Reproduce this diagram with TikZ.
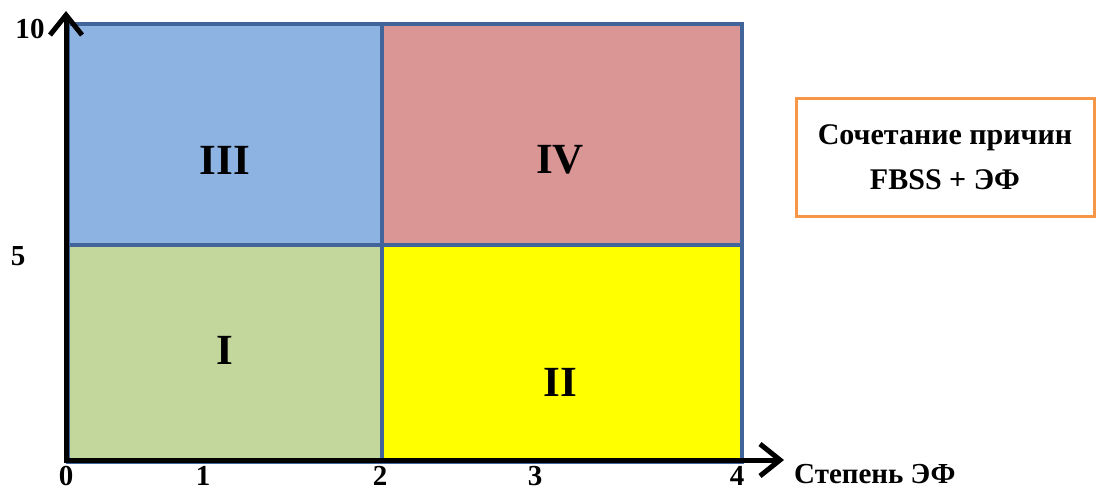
\documentclass[tikz,border=0pt]{standalone}
\usepackage{fontspec}
\setmainfont{Liberation Serif}
\usetikzlibrary{arrows.meta}

\definecolor{quadAzul}{HTML}{8DB3E2}
\definecolor{quadRosa}{HTML}{D99694}
\definecolor{quadVerde}{HTML}{C3D69B}
\definecolor{quadAmarelo}{HTML}{FFFF00}
\definecolor{bordaQuad}{HTML}{41659A}
\definecolor{bordaLeg}{HTML}{F79646}

\begin{document}
\begin{tikzpicture}[
    x=1pt, y=-1pt,
    font=\bfseries,
    % eixos pretos grossos com ponta aberta
    eixo/.style={line width=5pt, -{Straight Barb[length=20pt,width=32pt]}},
    quad/.style={draw=bordaQuad, line width=3.5pt, inner sep=0pt, anchor=north west},
    rotulo/.style={font=\bfseries\fontsize{43}{46}\selectfont},
    marca/.style={font=\bfseries\fontsize{29}{32}\selectfont, inner sep=0pt},
    legenda/.style={draw=bordaLeg, line width=3pt, align=center,
        minimum width=298pt, minimum height=118pt,
        font=\bfseries\fontsize{30}{45}\selectfont}
]

% === PARAMETROS DA GRADE ===
\def\xO{66}    % eixo vertical
\def\xM{380}   % divisao das colunas
\def\xF{740}   % borda direita
\def\yT{22}    % borda superior
\def\yM{243}   % divisao das linhas
\def\yO{460}   % eixo horizontal

\useasboundingbox (0,0) rectangle (1099,490);

% --- Quadrantes ---
\node[quad, fill=quadAzul, minimum width=\xM-\xO, minimum height=\yM-\yT] (Q3) at (\xO,\yT) {};
\node[quad, fill=quadRosa, minimum width=\xF-\xM, minimum height=\yM-\yT] (Q4) at (\xM,\yT) {};
\node[quad, fill=quadVerde, minimum width=\xM-\xO, minimum height=\yO-\yM] (Q1) at (\xO,\yM) {};
\node[quad, fill=quadAmarelo, minimum width=\xF-\xM, minimum height=\yO-\yM] (Q2) at (\xM,\yM) {};

\node[rotulo] (L3) at (225,160) {III};
\node[rotulo] (L4) at (560,160) {IV};
\node[rotulo] (L1) at (225,350) {I};
\node[rotulo] (L2) at (560,382) {II};

% --- Eixos ---
\coordinate (O) at (\xO,\yO);
\coordinate (Xfim) at (784,\yO);
\coordinate (Yfim) at (\xO,11);
\draw[eixo] ([xshift=-2.5pt]O) -- (Xfim);
\draw[eixo] ([yshift=-2.5pt]O) -- (Yfim);

% --- Marcas ---
\foreach \v/\x in {0/66,1/203,2/380,3/535,4/737}
    \node[marca] (t\v) at (\x,476) {\v};
\node[marca] (y10) at (30,29) {10};
\node[marca] (y5) at (18,256) {5};
\node[marca, anchor=west] (nomeX) at (794,474) {Степень ЭФ};

% --- Legenda ---
\node[legenda] (leg) at (945,157) {Сочетание причин\\FBSS + ЭФ};

\end{tikzpicture}
\end{document}
